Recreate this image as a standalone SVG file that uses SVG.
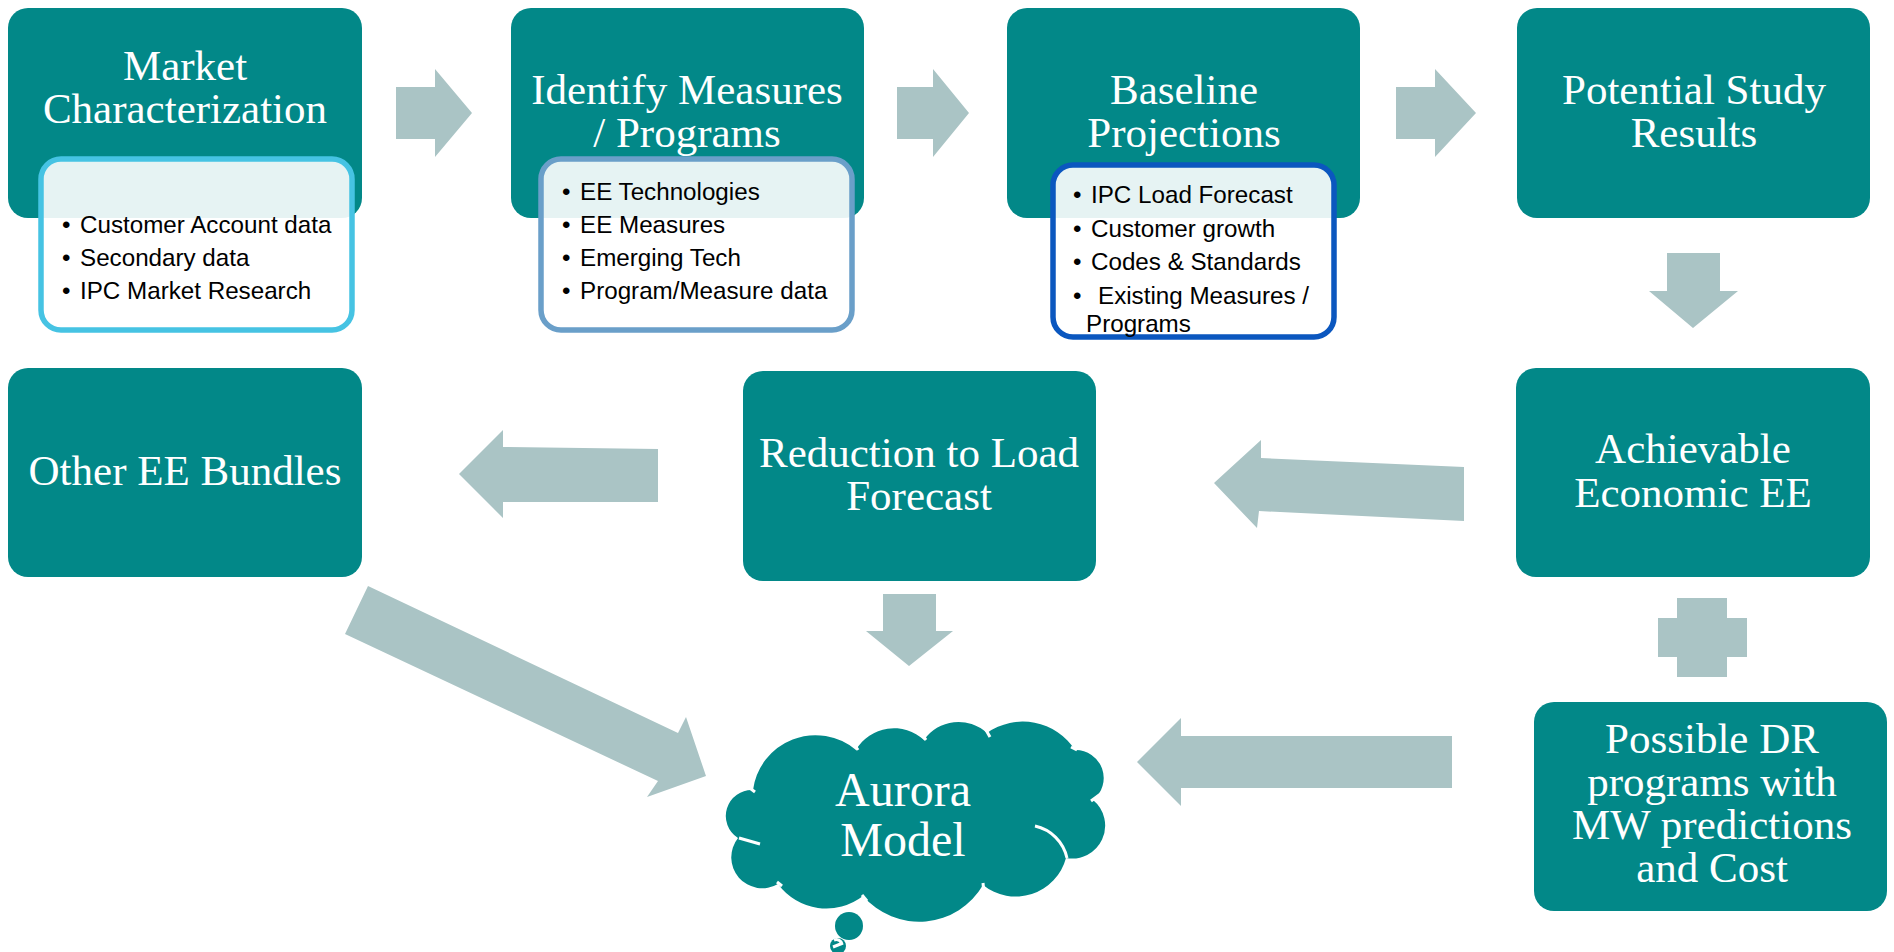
<svg xmlns="http://www.w3.org/2000/svg" width="1894" height="952" viewBox="0 0 1894 952">
<style>
.node{fill:#028888;}
.title{font-family:"Liberation Serif","Times New Roman",serif;font-size:43px;fill:#ffffff;text-anchor:middle;}
.big{font-size:48px;}
.inner{fill:#ffffff;fill-opacity:0.9;stroke-width:5.5;}
.bl{font-family:"Liberation Sans",Arial,sans-serif;font-size:24.2px;fill:#000000;}
.arrow{fill:#AAC4C5;}
.notch{fill:none;stroke:#ffffff;stroke-width:3;}
</style>
<rect width="1894" height="952" fill="#ffffff"/>

<g id="connectors">
  <polygon class="arrow" points="396,87 435,87 435,69 472,113 435,157 435,139 396,139"/>
  <polygon class="arrow" points="897,87 933,87 933,69 969,113 933,157 933,139 897,139"/>
  <polygon class="arrow" points="1396,87 1435,87 1435,69 1476,113 1435,157 1435,139 1396,139"/>
  <polygon class="arrow" points="1667,253 1720,253 1720,291 1738,291 1693,328 1649,291 1667,291"/>
  <polygon class="arrow" points="1214,483 1261,440 1261,458 1464,467 1464,521 1259,511 1257,528"/>
  <polygon class="arrow" points="459,474 503,430 503,447 658,449 658,502 503,502 503,518"/>
  <polygon class="arrow" points="883,594 936,594 936,631 953,631 909,666 866,631 883,631"/>
  <polygon class="arrow" points="1677,598 1727,598 1727,618 1747,618 1747,657 1727,657 1727,677 1677,677 1677,657 1658,657 1658,618 1677,618"/>
  <polygon class="arrow" points="1137,762 1181,718 1181,736 1452,736 1452,788 1181,788 1181,806"/>
  <polygon class="arrow" points="368,586 678,733 686,717 706,776 647,797 658,781 345,634"/>
</g>

<g id="market">
  <rect class="node" x="8" y="8" width="354" height="210" rx="20"/>
  <text class="title" x="185" y="80">Market<tspan x="185" dy="43">Characterization</tspan></text>
  <rect class="inner" x="41" y="159" width="311" height="171" rx="20" stroke="#46C3E3"/>
  <text class="bl" x="62" y="233">•</text><text class="bl" x="80" y="233">Customer Account data</text>
  <text class="bl" x="62" y="266">•</text><text class="bl" x="80" y="266">Secondary data</text>
  <text class="bl" x="62" y="299">•</text><text class="bl" x="80" y="299">IPC Market Research</text>
</g>

<g id="identify">
  <rect class="node" x="511" y="8" width="353" height="210" rx="20"/>
  <text class="title" x="687" y="104">Identify Measures<tspan x="687" dy="43">/ Programs</tspan></text>
  <rect class="inner" x="541" y="159" width="311" height="171" rx="20" stroke="#6A9FC9"/>
  <text class="bl" x="562" y="200">•</text><text class="bl" x="580" y="200">EE Technologies</text>
  <text class="bl" x="562" y="233">•</text><text class="bl" x="580" y="233">EE Measures</text>
  <text class="bl" x="562" y="266">•</text><text class="bl" x="580" y="266">Emerging Tech</text>
  <text class="bl" x="562" y="299">•</text><text class="bl" x="580" y="299">Program/Measure data</text>
</g>

<g id="baseline">
  <rect class="node" x="1007" y="8" width="353" height="210" rx="20"/>
  <text class="title" x="1184" y="104">Baseline<tspan x="1184" dy="43">Projections</tspan></text>
  <rect class="inner" x="1053" y="165" width="281" height="172" rx="20" stroke="#0B57BF"/>
  <text class="bl" x="1073" y="203">•</text><text class="bl" x="1091" y="203">IPC Load Forecast</text>
  <text class="bl" x="1073" y="237">•</text><text class="bl" x="1091" y="237">Customer growth</text>
  <text class="bl" x="1073" y="270">•</text><text class="bl" x="1091" y="270">Codes &amp; Standards</text>
  <text class="bl" x="1073" y="304">•</text><text class="bl" x="1098" y="304">Existing Measures /<tspan x="1086" dy="28">Programs</tspan></text>
</g>

<g id="potential">
  <rect class="node" x="1517" y="8" width="353" height="210" rx="20"/>
  <text class="title" x="1694" y="104">Potential Study<tspan x="1694" dy="43">Results</tspan></text>
</g>

<g id="other-ee">
  <rect class="node" x="8" y="368" width="354" height="209" rx="20"/>
  <text class="title" x="185" y="485">Other EE Bundles</text>
</g>

<g id="reduction">
  <rect class="node" x="743" y="371" width="353" height="210" rx="20"/>
  <text class="title" x="919" y="467">Reduction to Load<tspan x="919" dy="43">Forecast</tspan></text>
</g>

<g id="achievable">
  <rect class="node" x="1516" y="368" width="354" height="209" rx="20"/>
  <text class="title" x="1693" y="463">Achievable<tspan x="1693" dy="44">Economic EE</tspan></text>
</g>

<g id="dr">
  <rect class="node" x="1534" y="702" width="353" height="209" rx="20"/>
  <text class="title" x="1712" y="753">Possible DR<tspan x="1712" dy="43">programs with</tspan><tspan x="1712" dy="43">MW predictions</tspan><tspan x="1712" dy="43">and Cost</tspan></text>
</g>

<g id="aurora">
  <path class="node" d="M 753 790 A 63 63 0 0 1 856 750 A 44 44 0 0 1 924 740 A 42 42 0 0 1 987 733 A 62 62 0 0 1 1075 750 A 28 28 0 0 1 1093 800 A 33 33 0 0 1 1066 858 A 52 52 0 0 1 983 885 A 74 74 0 0 1 863 896 A 60 60 0 0 1 778 884 A 31 31 0 0 1 738 838 A 26 26 0 0 1 753 790 Z"/>
  <path class="notch" d="M 1035 826 A 42 42 0 0 1 1067 858"/>
  <path class="notch" d="M 739 838 L 760 844"/>
  <path class="notch" d="M 751 789 L 755 792"/>
  <path class="notch" d="M 852 741 L 858 750"/>
  <path class="notch" d="M 920 732 L 926 740"/>
  <path class="notch" d="M 986 730 L 990 737"/>
  <path class="notch" d="M 1071 747 L 1077 750"/>
  <path class="notch" d="M 1091 801 L 1106 790"/>
  <path class="notch" d="M 983 883 L 984 893"/>
  <path class="notch" d="M 862 895 L 867 901"/>
  <path class="notch" d="M 777 882 L 782 886"/>
  <circle class="node" cx="849" cy="926" r="14"/>
  <circle class="node" cx="838" cy="946" r="8"/>
  <path class="notch" stroke-width="2" d="M 834 940 A 6 6 0 0 1 842 944 M 833 947 L 843 943"/>
  <text class="title big" x="903" y="806">Aurora<tspan x="903" dy="50">Model</tspan></text>
</g>
</svg>
